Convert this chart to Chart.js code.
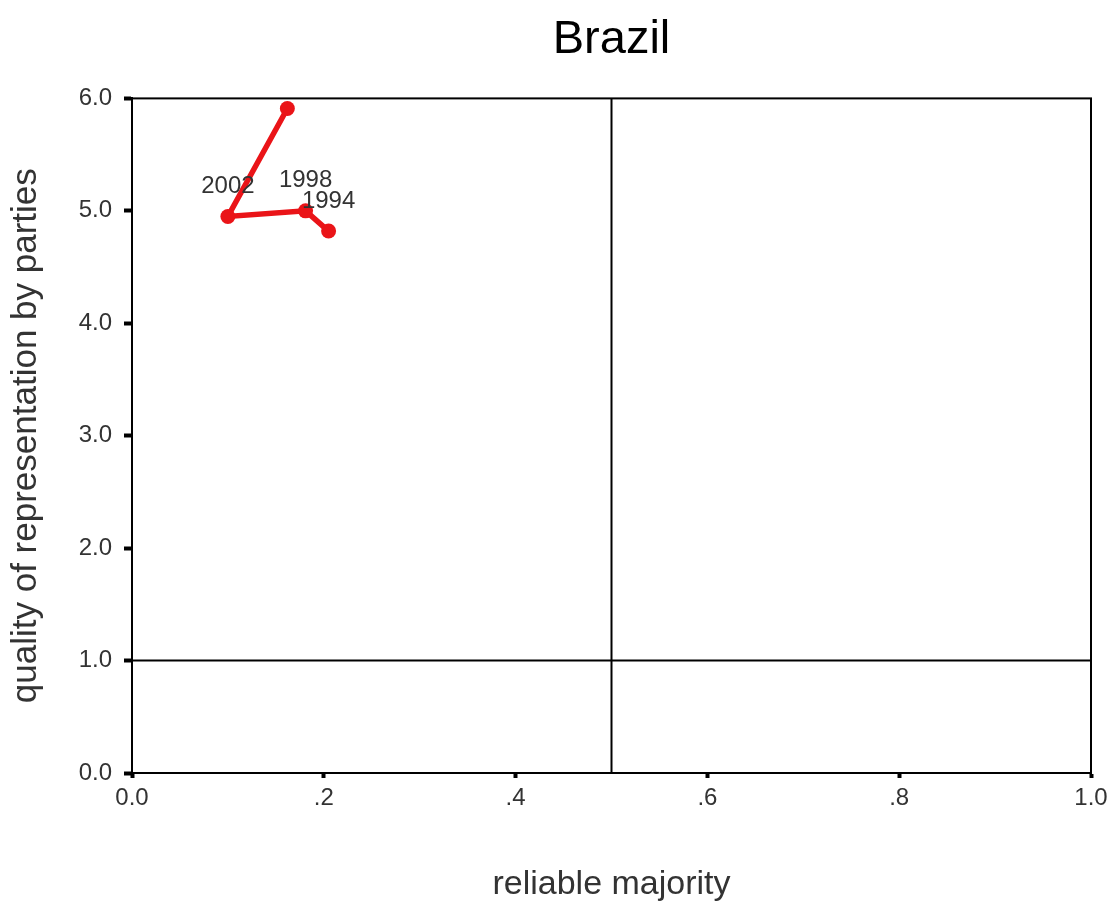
<!DOCTYPE html>
<html>
<head>
<meta charset="utf-8">
<title>Brazil</title>
<script src="https://cdn.jsdelivr.net/npm/chart.js@4/dist/chart.umd.min.js"></script>
<style>
    html, body { margin: 0; padding: 0; background: #fff; }
    #wrap { width: 1112px; height: 905px; }
</style>
</head>
<body>
<div id="wrap"><canvas id="brazilChart" width="1112" height="905"></canvas></div>
<script>
// Datos del gráfico
const years = ['1994', '1998', '2002', ''];
const majority = [0.205, 0.181, 0.100, 0.162];
const quality = [4.82, 5.00, 4.95, 5.91];
const xTickLabels = ['0.0', '.2', '.4', '.6', '.8', '1.0'];
const yTickLabels = ['0.0', '1.0', '2.0', '3.0', '4.0', '5.0', '6.0'];
const refX = 0.5;
const refY = 1.0;

(() => {
    const FONT = '"Liberation Sans", Arial, sans-serif';
    const RED = '#ea1418';

    /**
     * Marco del área y líneas de referencia
     */
    const framePlugin = {
        id: 'frame',
        beforeDatasetsDraw(chart) {
            const { ctx, chartArea: a, scales: { x, y } } = chart;
            ctx.save();
            ctx.strokeStyle = '#000';
            ctx.lineWidth = 2;
            ctx.strokeRect(a.left, a.top, a.right - a.left, a.bottom - a.top);

            const px = x.getPixelForValue(refX);
            const py = y.getPixelForValue(refY);
            ctx.beginPath();
            ctx.moveTo(px, a.top);
            ctx.lineTo(px, a.bottom);
            ctx.moveTo(a.left, py);
            ctx.lineTo(a.right, py);
            ctx.stroke();
            ctx.restore();
        }
    };

    /**
     * Etiquetas de los años sobre cada punto
     */
    const yearLabels = {
        id: 'yearLabels',
        afterDatasetsDraw(chart) {
            const { ctx } = chart;
            const meta = chart.getDatasetMeta(0);
            ctx.save();
            ctx.font = '24px ' + FONT;
            ctx.fillStyle = '#333';
            ctx.textAlign = 'center';
            ctx.textBaseline = 'middle';
            meta.data.forEach((pt, i) => {
                if (years[i]) ctx.fillText(years[i], pt.x, pt.y - 30);
            });
            ctx.restore();
        }
    };

    new Chart(document.getElementById('brazilChart'), {
        type: 'scatter',
        data: {
            datasets: [{
                data: majority.map((v, i) => ({ x: v, y: quality[i] })),
                showLine: true,
                borderColor: RED,
                backgroundColor: RED,
                borderWidth: 5.5,
                pointRadius: 7.5,
                pointBorderWidth: 0,
                tension: 0
            }]
        },
        options: {
            responsive: false,
            animation: false,
            layout: { padding: { left: 0, right: 21, top: 0, bottom: 0 } },
            scales: {
                x: {
                    type: 'linear',
                    min: 0,
                    max: 1,
                    afterFit: (s) => {
                        s.height = 132;
                        s.paddingLeft = 0;
                        s.paddingRight = 0;
                    },
                    afterBuildTicks: (s) => { s.ticks = xTickLabels.map((_, i) => ({ value: i * 0.2 })); },
                    ticks: {
                        color: '#333',
                        font: { family: FONT, size: 24 },
                        padding: 6,
                        maxRotation: 0,
                        callback: (v, i) => xTickLabels[i]
                    },
                    grid: { drawOnChartArea: false, drawTicks: true, tickLength: 5, tickWidth: 4, tickColor: '#000' },
                    border: { display: true, color: '#000', width: 2 },
                    title: {
                        display: true,
                        text: 'reliable majority',
                        color: '#333',
                        font: { family: FONT, size: 34 },
                        padding: { top: 0, bottom: 0 }
                    }
                },
                y: {
                    type: 'linear',
                    min: 0,
                    max: 6,
                    afterFit: (s) => { s.width = 132; },
                    afterBuildTicks: (s) => { s.ticks = yTickLabels.map((_, i) => ({ value: i })); },
                    ticks: {
                        color: '#333',
                        font: { family: FONT, size: 24 },
                        padding: 12,
                        callback: (v, i) => yTickLabels[i]
                    },
                    grid: { drawOnChartArea: false, drawTicks: true, tickLength: 8, tickWidth: 4, tickColor: '#000' },
                    border: { display: true, color: '#000', width: 2 },
                    title: {
                        display: true,
                        text: 'quality of representation by parties',
                        color: '#333',
                        font: { family: FONT, size: 35 },
                        padding: { top: 5, bottom: 0 }
                    }
                }
            },
            plugins: {
                legend: { display: false },
                tooltip: { enabled: false },
                title: {
                    display: true,
                    fullSize: false,
                    text: 'Brazil',
                    color: '#000',
                    font: { family: FONT, size: 47, weight: 'normal' },
                    padding: { top: 12, bottom: 30 }
                }
            }
        },
        plugins: [framePlugin, yearLabels]
    });
})();
</script>
</body>
</html>
